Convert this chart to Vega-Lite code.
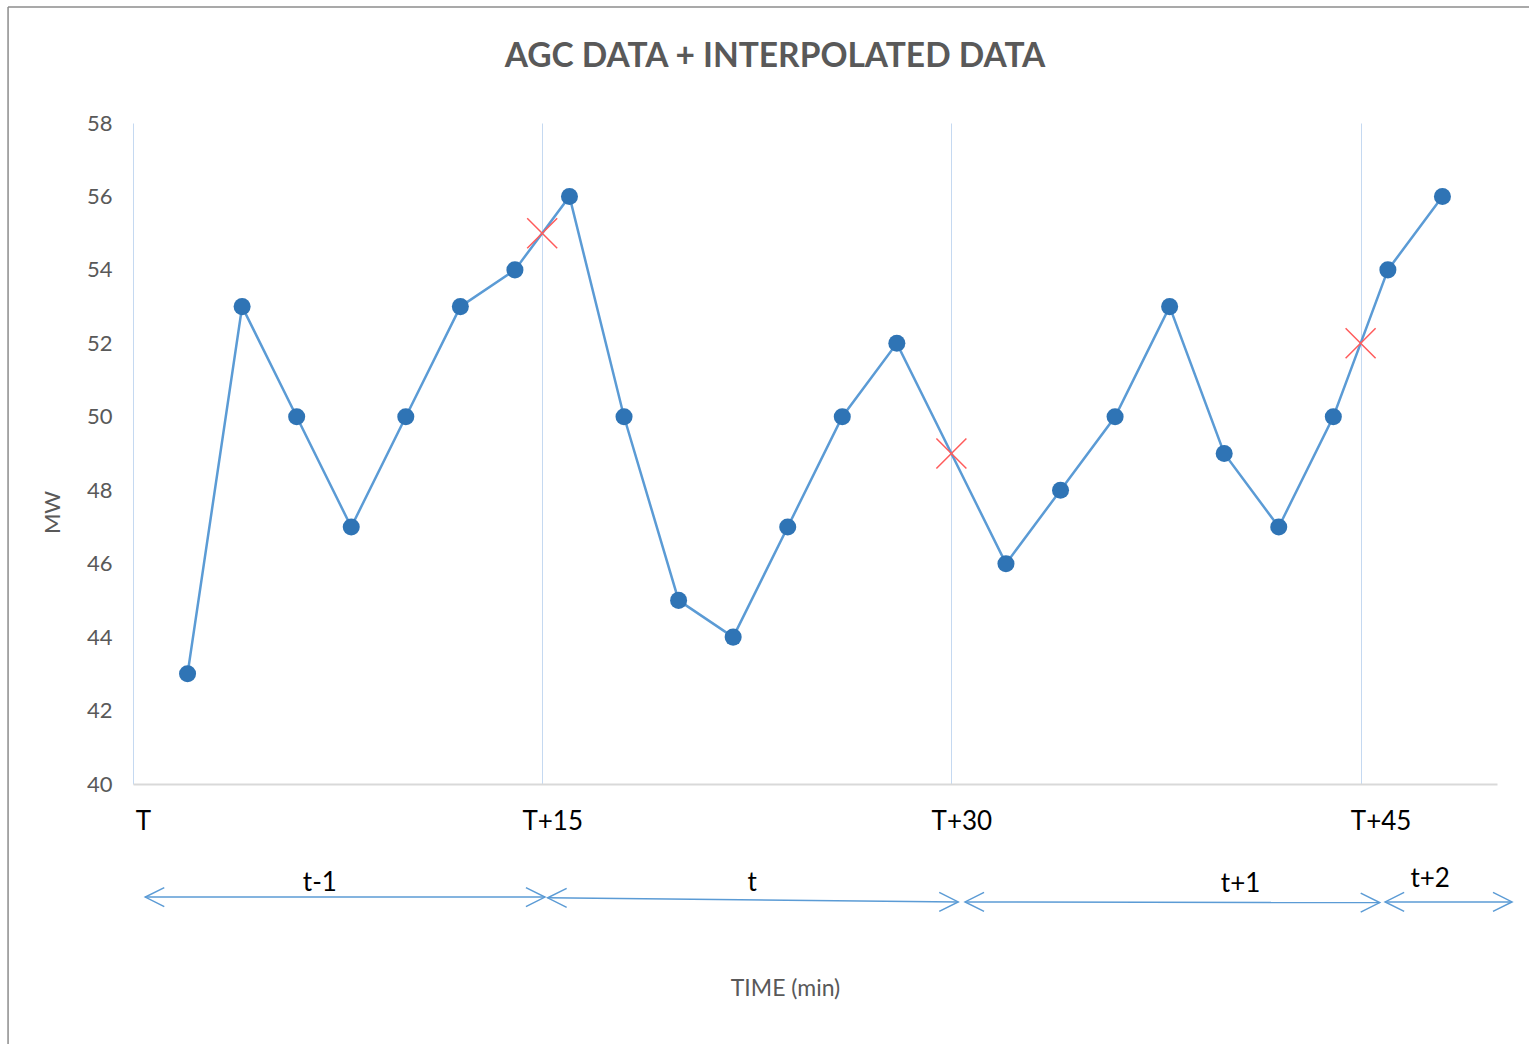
{
  "$schema": "https://vega.github.io/schema/vega-lite/v6.json",
  "width": 1364,
  "height": 661,
  "autosize": {"type": "none"},
  "padding": {"left": 133, "top": 123, "right": 32, "bottom": 260},
  "background": "white",
  "config": {"view": {"stroke": null}, "font": "Lato"},
  "title": {
    "text": "AGC DATA + INTERPOLATED DATA",
    "fontSize": 33.5,
    "font": "Lato",
    "fontWeight": "bold",
    "color": "#595959",
    "anchor": "middle",
    "dx": -40,
    "offset": 0,
    "dy": 68
  },
  "datasets": {
    "agc": [
      {"t": 2, "mw": 43, "type": "AGC"},
      {"t": 4, "mw": 53, "type": "AGC"},
      {"t": 6, "mw": 50, "type": "AGC"},
      {"t": 8, "mw": 47, "type": "AGC"},
      {"t": 10, "mw": 50, "type": "AGC"},
      {"t": 12, "mw": 53, "type": "AGC"},
      {"t": 14, "mw": 54, "type": "AGC"},
      {"t": 15, "mw": 55, "type": "Interpolated"},
      {"t": 16, "mw": 56, "type": "AGC"},
      {"t": 18, "mw": 50, "type": "AGC"},
      {"t": 20, "mw": 45, "type": "AGC"},
      {"t": 22, "mw": 44, "type": "AGC"},
      {"t": 24, "mw": 47, "type": "AGC"},
      {"t": 26, "mw": 50, "type": "AGC"},
      {"t": 28, "mw": 52, "type": "AGC"},
      {"t": 30, "mw": 49, "type": "Interpolated"},
      {"t": 32, "mw": 46, "type": "AGC"},
      {"t": 34, "mw": 48, "type": "AGC"},
      {"t": 36, "mw": 50, "type": "AGC"},
      {"t": 38, "mw": 53, "type": "AGC"},
      {"t": 40, "mw": 49, "type": "AGC"},
      {"t": 42, "mw": 47, "type": "AGC"},
      {"t": 44, "mw": 50, "type": "AGC"},
      {"t": 45, "mw": 52, "type": "Interpolated"},
      {"t": 46, "mw": 54, "type": "AGC"},
      {"t": 48, "mw": 56, "type": "AGC"}
    ],
    "arrows": [
      {"period": "t-1", "start": 0.45, "end": 15.1, "ystart": 36.92, "yend": 36.92, "labelT": 6.85, "labelY": 37.08},
      {"period": "t", "start": 15.2, "end": 30.25, "ystart": 36.9, "yend": 36.79, "labelT": 22.7, "labelY": 37.08},
      {"period": "t+1", "start": 30.5, "end": 45.7, "ystart": 36.79, "yend": 36.77, "labelT": 40.6, "labelY": 37.06},
      {"period": "t+2", "start": 45.9, "end": 50.55, "ystart": 36.79, "yend": 36.79, "labelT": 47.55, "labelY": 37.19}
    ],
    "frame": [{"left": -4.58, "right": 52, "top": 61.16, "bottom": 32.5}]
  },
  "layer": [
    {
      "data": {"name": "frame"},
      "mark": {"type": "rule", "color": "#8c8c8c", "strokeWidth": 1.5},
      "encoding": {
        "x": {"field": "left", "type": "quantitative", "scale": {"domain": [0, 50], "nice": false}},
        "x2": {"field": "right"},
        "y": {"field": "top", "type": "quantitative", "scale": {"domain": [40, 58], "nice": false, "zero": false}}
      }
    },
    {
      "data": {"name": "frame"},
      "mark": {"type": "rule", "color": "#8c8c8c", "strokeWidth": 1.5},
      "encoding": {
        "x": {"field": "left", "type": "quantitative"},
        "y": {"field": "top", "type": "quantitative"},
        "y2": {"field": "bottom"}
      }
    },
    {
      "data": {"name": "agc"},
      "mark": {"type": "line", "color": "#5B9BD5", "strokeWidth": 2.5},
      "encoding": {
        "x": {
          "field": "t",
          "type": "quantitative",
          "scale": {"domain": [0, 50], "nice": false},
          "axis": {
            "values": [0, 15, 30, 45],
            "labelExpr": "datum.value == 0 ? 'T' : 'T+' + datum.value",
            "grid": true,
            "gridColor": "#C5D9F1",
            "gridWidth": 1,
            "ticks": false,
            "domainColor": "#D9D9D9",
            "domainWidth": 2,
            "labelFont": "Lato",
            "labelFontSize": 26,
            "labelColor": "#000000",
            "labelAlign": "center",
            "labelOffset": {"condition": {"test": "datum.value == 45", "value": 20}, "value": 10},
            "labelFlush": false,
            "labelBound": false,
            "labelOverlap": false,
            "labelBaseline": "alphabetic",
            "labelPadding": 45,
            "title": "TIME (min)",
            "titleFont": "Lato",
            "titleFontSize": 23,
            "titleFontWeight": "normal",
            "titleColor": "#595959",
            "titleX": 652,
            "titleY": 204,
            "titleAlign": "center",
            "titleBaseline": "middle"
          }
        },
        "y": {
          "field": "mw",
          "type": "quantitative",
          "scale": {"domain": [40, 58], "nice": false, "zero": false},
          "axis": {
            "values": [40, 42, 44, 46, 48, 50, 52, 54, 56, 58],
            "grid": false,
            "domain": false,
            "ticks": false,
            "labelFont": "Lato",
            "labelFontSize": 22,
            "labelColor": "#595959",
            "labelPadding": 21,
            "title": "MW",
            "titleFont": "Lato",
            "titleFontSize": 22,
            "titleFontWeight": "normal",
            "titleColor": "#595959",
            "titleX": -81,
            "titleY": 389,
            "titleAlign": "center",
            "titleBaseline": "middle"
          }
        }
      }
    },
    {
      "data": {"name": "agc"},
      "transform": [{"filter": "datum.type == 'AGC'"}],
      "mark": {"type": "circle", "size": 290, "color": "#2F74B5", "opacity": 1},
      "encoding": {
        "x": {"field": "t", "type": "quantitative"},
        "y": {"field": "mw", "type": "quantitative"}
      }
    },
    {
      "data": {"name": "agc"},
      "transform": [{"filter": "datum.type == 'Interpolated'"}],
      "mark": {"type": "point", "shape": "M-1,-1L1,1M-1,1L1,-1", "size": 900, "filled": false, "stroke": "#FF5B5B", "strokeWidth": 1.5, "opacity": 1},
      "encoding": {
        "x": {"field": "t", "type": "quantitative"},
        "y": {"field": "mw", "type": "quantitative"}
      }
    },
    {
      "data": {"name": "arrows"},
      "mark": {"type": "rule", "color": "#5B9BD5", "strokeWidth": 1.5},
      "encoding": {
        "x": {"field": "start", "type": "quantitative"},
        "x2": {"field": "end"},
        "y": {"field": "ystart", "type": "quantitative"},
        "y2": {"field": "yend"}
      }
    },
    {
      "data": {"name": "arrows"},
      "mark": {"type": "point", "shape": "M2,-1L0,0L2,1", "size": 361, "filled": false, "stroke": "#5B9BD5", "strokeWidth": 1.5, "opacity": 1},
      "encoding": {
        "x": {"field": "start", "type": "quantitative"},
        "y": {"field": "ystart", "type": "quantitative"}
      }
    },
    {
      "data": {"name": "arrows"},
      "mark": {"type": "point", "shape": "M-2,-1L0,0L-2,1", "size": 361, "filled": false, "stroke": "#5B9BD5", "strokeWidth": 1.5, "opacity": 1},
      "encoding": {
        "x": {"field": "end", "type": "quantitative"},
        "y": {"field": "yend", "type": "quantitative"}
      }
    },
    {
      "data": {"name": "arrows"},
      "mark": {"type": "text", "font": "Lato", "fontSize": 26, "color": "#000000", "align": "center", "baseline": "alphabetic"},
      "encoding": {
        "x": {"field": "labelT", "type": "quantitative"},
        "y": {"field": "labelY", "type": "quantitative"},
        "text": {"field": "period"}
      }
    }
  ]
}
